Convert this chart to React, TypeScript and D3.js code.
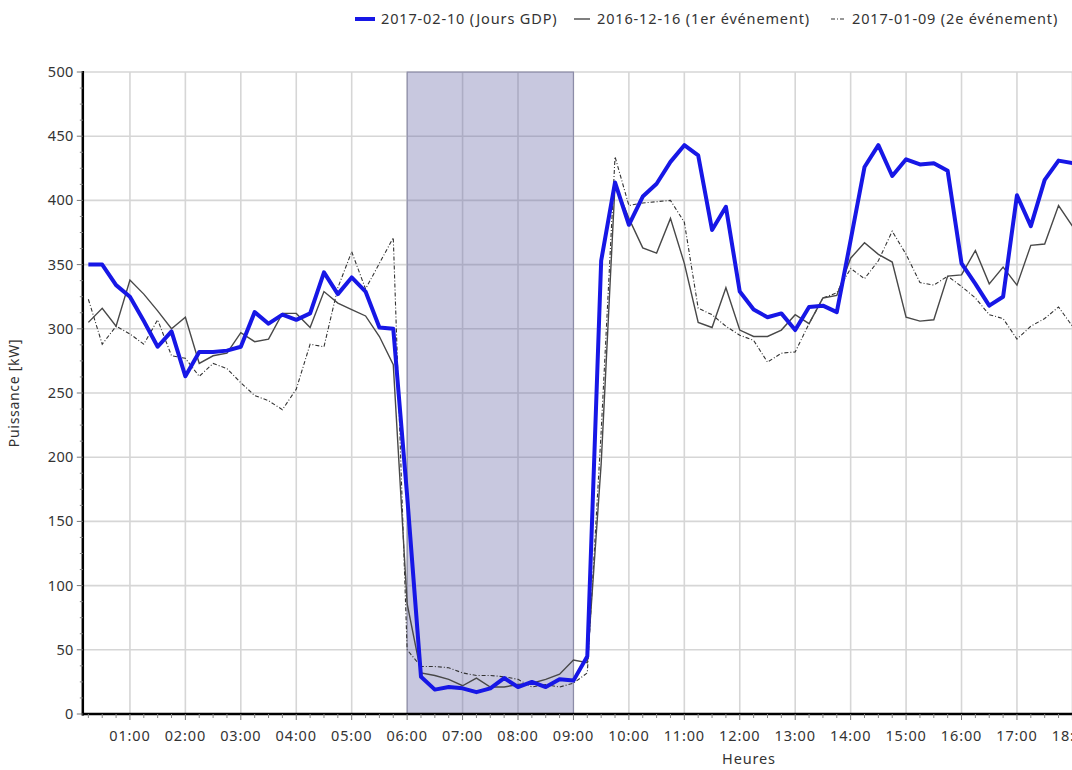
import React from "react";
import * as d3 from "d3";

// Time of each sample, in hours (every 15 min from 00:15 to 18:00)
const times: number[] = Array.from({ length: 72 }, (_, i) => 0.25 + i * 0.25);

const gdp: number[] = [
  350, 350, 334, 325, 306, 286, 298, 263, 282, 282, 283, 286, 313, 304, 311, 307,
  312, 344, 327, 340, 329, 301, 300, 170, 29, 19, 21, 20, 17, 20, 28, 21,
  25, 21, 27, 26, 45, 353, 414, 381, 403, 413, 430, 443, 435, 377, 395, 329,
  315, 309, 312, 299, 317, 318, 313, 369, 426, 443, 419, 432, 428, 429, 423, 351,
  335, 318, 325, 404, 380, 416, 431, 429,
];

const event1: number[] = [
  305, 316, 302, 338, 327, 314, 300, 309, 273, 279, 281, 297, 290, 292, 312, 312,
  301, 329, 320, 315, 310, 294, 272, 86, 32, 30, 27, 22, 28, 21, 21, 23,
  24, 27, 31, 42, 40, 195, 413, 386, 363, 359, 386, 351, 305, 301, 332, 299,
  294, 294, 299, 311, 304, 324, 326, 355, 367, 358, 352, 309, 306, 307, 341, 342,
  361, 335, 348, 334, 365, 366, 396, 380,
];

const event2: number[] = [
  323, 288, 302, 296, 288, 307, 279, 277, 263, 273, 269, 258, 248, 244, 237, 253,
  288, 286, 332, 360, 331, 351, 371, 50, 37, 37, 36, 32, 30, 30, 29, 27,
  21, 23, 21, 24, 32, 220, 434, 396, 398, 399, 400, 383, 316, 311, 302, 295,
  291, 274, 281, 282, 304, 324, 328, 347, 339, 353, 376, 358, 336, 334, 341, 333,
  324, 311, 308, 292, 302, 308, 317, 302,
];

const seriesNames: string[] = [
  "2017-02-10 (Jours GDP)",
  "2016-12-16 (1er événement)",
  "2017-01-09 (2e événement)",
];

const hourTicks: number[] = d3.range(1, 19);
const hourLabels: string[] = hourTicks.map((h) => `${String(h).padStart(2, "0")}:00`);
const yTicks: number[] = [0, 50, 100, 150, 200, 250, 300, 350, 400, 450, 500];
const shadeStart = 6;
const shadeEnd = 9;

const W = 1072;
const H = 770;
const FONT = "'Noto Sans', 'Open Sans', sans-serif";
const LS = 0.85;

export default function App() {
  const x = d3.scaleLinear().domain([0, 18]).range([74.5, 1072.4]);
  const y = d3.scaleLinear().domain([0, 500]).range([714, 72]);
  const x0 = x(0.15);
  const xEnd = W + 5;

  const mk = (vals: number[]) =>
    d3
      .line<number>()
      .x((_, i) => x(times[i]))
      .y((v) => y(v))(vals) as string;

  const minorX = d3.range(0.25, 18.3, 0.25).filter((h) => Math.abs(h - Math.round(h)) > 0.01);
  const minorY = d3.range(0, 500.1, 12.5).filter((v) => v % 50 !== 0);

  return (
    <svg
      width={W}
      height={H}
      style={{ position: "absolute", left: 0, top: 0, background: "#fff" }}
      fontFamily={FONT}
    >
      <rect x={0} y={0} width={W} height={H} fill="#fff" />
      {/* grid */}
      {yTicks.slice(1).map((v) => (
        <line key={"gy" + v} x1={x0} x2={xEnd} y1={y(v)} y2={y(v)} stroke="#d6d6d6" strokeWidth={1.6} />
      ))}
      {hourTicks.map((h) => (
        <line key={"gx" + h} x1={x(h)} x2={x(h)} y1={y(500)} y2={y(0)} stroke="#d6d6d6" strokeWidth={1.6} />
      ))}
      {/* shaded event window */}
      <rect
        x={x(shadeStart)}
        y={y(500)}
        width={x(shadeEnd) - x(shadeStart)}
        height={y(0) - y(500)}
        fill="rgb(95,95,160)"
        fillOpacity={0.34}
        stroke="#8a8aa6"
        strokeWidth={1}
      />
      {/* series */}
      <path d={mk(event2)} fill="none" stroke="#333" strokeWidth={1.1} strokeDasharray="4,2,1,2" />
      <path d={mk(event1)} fill="none" stroke="#484848" strokeWidth={1.4} />
      <path d={mk(gdp)} fill="none" stroke="#1717e6" strokeWidth={4} strokeLinejoin="round" />
      {/* axes */}
      <line x1={x0} x2={x0} y1={y(500) - 1} y2={y(0) + 1.5} stroke="#000" strokeWidth={2.5} />
      <line x1={x0 - 1} x2={xEnd} y1={y(0)} y2={y(0)} stroke="#000" strokeWidth={2.5} />
      {yTicks.map((v) => (
        <g key={"yt" + v}>
          <line x1={x0 - 6} x2={x0} y1={y(v)} y2={y(v)} stroke="#777" strokeWidth={1} />
          <text x={x0 - 9} y={y(v)} dy="0.35em" textAnchor="end" fontSize={14.5} letterSpacing={0.4} fill="#333">
            {v}
          </text>
        </g>
      ))}
      {minorY.map((v) => (
        <line key={"ym" + v} x1={x0 - 3} x2={x0} y1={y(v)} y2={y(v)} stroke="#888" strokeWidth={1} />
      ))}
      {hourTicks.map((h, i) => (
        <g key={"xt" + h}>
          <line x1={x(h)} x2={x(h)} y1={y(0)} y2={y(0) + 6} stroke="#777" strokeWidth={1} />
          <text x={x(h)} y={y(0) + 27} textAnchor="middle" fontSize={14.5} letterSpacing={LS} fill="#333">
            {hourLabels[i]}
          </text>
        </g>
      ))}
      {minorX.map((h) => (
        <line key={"xm" + h} x1={x(h)} x2={x(h)} y1={y(0)} y2={y(0) + 4} stroke="#888" strokeWidth={1} />
      ))}
      {/* axis titles */}
      <text x={749} y={764} textAnchor="middle" fontSize={14.5} letterSpacing={LS} fill="#333">
        Heures
      </text>
      <text
        transform={`translate(19,${(y(0) + y(500)) / 2}) rotate(-90)`}
        textAnchor="middle"
        fontSize={14}
        letterSpacing={0.7}
        fill="#333"
      >
        Puissance [kW]
      </text>
      {/* legend */}
      <g fontSize={14.5} fill="#333" letterSpacing={LS}>
        <line x1={355} x2={375} y1={19} y2={19} stroke="#1717e6" strokeWidth={4} />
        <text x={381} y={19} dy="0.35em">{seriesNames[0]}</text>
        <line x1={574} x2={590} y1={19} y2={19} stroke="#484848" strokeWidth={1.4} />
        <text x={597} y={19} dy="0.35em">{seriesNames[1]}</text>
        <line x1={831} x2={846} y1={19} y2={19} stroke="#333" strokeWidth={1.1} strokeDasharray="4,2,1,2" />
        <text x={852} y={19} dy="0.35em">{seriesNames[2]}</text>
      </g>
    </svg>
  );
}
